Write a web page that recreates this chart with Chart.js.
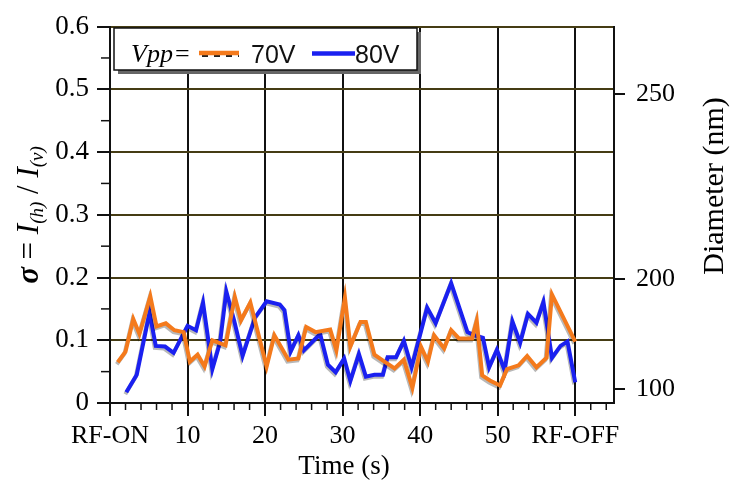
<!DOCTYPE html>
<html>
<head>
<meta charset="utf-8">
<title>Sigma vs time</title>
<script src="https://cdn.jsdelivr.net/npm/chart.js@4"></script>
<style>
  html, body { margin: 0; padding: 0; background: #fff; }
  canvas { display: block; }
</style>
</head>
<body>
<canvas id="chart" width="731" height="488"></canvas>
<script>
// values (time in s, sigma on the left axis)
const times70 = [1, 2, 3, 3.8, 5.2, 6, 7.2, 8.3, 9.5, 10.3, 11.3, 12.2, 13.2, 14.9, 16.1, 16.9, 18.1, 20.2, 21.2, 23, 24.3, 25.3, 26.5, 28.4, 29.2, 30.3, 31, 32.3, 33, 34.1, 35.4, 36.7, 37.9, 39, 40.1, 41, 41.8, 43.1, 44, 45, 46.7, 47.3, 48, 49, 50.3, 51.2, 52.7, 53.8, 55, 56.3, 57, 60];
const sigma70 = [0.065, 0.082, 0.134, 0.110, 0.170, 0.122, 0.127, 0.116, 0.113, 0.066, 0.077, 0.058, 0.100, 0.092, 0.169, 0.132, 0.160, 0.058, 0.108, 0.069, 0.071, 0.121, 0.113, 0.117, 0.084, 0.168, 0.090, 0.129, 0.129, 0.077, 0.066, 0.055, 0.069, 0.024, 0.090, 0.066, 0.108, 0.087, 0.116, 0.103, 0.103, 0.131, 0.044, 0.036, 0.028, 0.054, 0.060, 0.075, 0.057, 0.072, 0.173, 0.098];

const times80 = [2.1, 3.45, 5.1, 5.9, 7.1, 8.2, 10, 11.1, 12, 13.2, 14.2, 15, 16, 17.1, 18.7, 20.2, 21.9, 22.5, 23.3, 24.3, 25, 27.1, 28.1, 29.1, 30.2, 31, 32.1, 33, 34.1, 35.2, 35.8, 36.9, 37.9, 38.9, 40.9, 42, 44, 46.1, 47, 48.1, 48.9, 49.9, 50.9, 51.9, 52.9, 53.9, 55, 55.9, 57, 58.1, 59, 60];
const sigma80 = [0.017, 0.045, 0.144, 0.091, 0.090, 0.080, 0.123, 0.116, 0.160, 0.054, 0.097, 0.178, 0.132, 0.075, 0.136, 0.162, 0.157, 0.148, 0.082, 0.108, 0.084, 0.110, 0.061, 0.049, 0.071, 0.035, 0.078, 0.042, 0.045, 0.045, 0.073, 0.073, 0.099, 0.057, 0.152, 0.127, 0.191, 0.113, 0.108, 0.104, 0.057, 0.085, 0.052, 0.130, 0.096, 0.142, 0.128, 0.161, 0.072, 0.091, 0.098, 0.033];

const xTickValues = [0, 10, 20, 30, 40, 50, 60];
const xTickLabels = ['RF-ON', '10', '20', '30', '40', '50', 'RF-OFF'];
const yTickValues = [0, 0.1, 0.2, 0.3, 0.4, 0.5, 0.6];
// right axis (diameter) labels and where they sit on the sigma scale
const diameterLabels = ['100', '200', '250'];
const diameterAt = [0.022, 0.198, 0.492];

const SERIF = '"Liberation Serif", "Times New Roman", serif';
const SANS = '"Liberation Sans", Arial, sans-serif';
const ORANGE = '#f47a1c';
const BLUE = '#1a20f0';

const pts = (xs, ys) => xs.map((x, i) => ({ x: x, y: ys[i] }));

// faint dark offset under the lines, like the printed figure
const lineShadow = {
  id: 'lineShadow',
  beforeDatasetDraw(chart) {
    const c = chart.ctx;
    c.save();
    c.shadowColor = 'rgba(0,0,0,0.28)';
    c.shadowOffsetX = -1;
    c.shadowOffsetY = 2;
    c.shadowBlur = 0;
  },
  afterDatasetDraw(chart) {
    chart.ctx.restore();
  }
};

const extras = {
  id: 'extras',
  afterDraw(chart) {
    const c = chart.ctx;
    const a = chart.chartArea;
    const xs = chart.scales.x, ys = chart.scales.y;

    // minor ticks
    c.save();
    c.strokeStyle = '#111';
    c.lineWidth = 1.5;
    for (let t = 2; t <= 64; t += 2) {
      if (t % 10 === 0) continue;
      const px = xs.getPixelForValue(t);
      c.beginPath(); c.moveTo(px, a.bottom); c.lineTo(px, a.bottom + 7); c.stroke();
    }
    for (let v = 0.05; v < 0.6; v += 0.1) {
      const py = ys.getPixelForValue(v);
      c.beginPath(); c.moveTo(a.left - 9, py); c.lineTo(a.left, py); c.stroke();
    }
    c.restore();

    // left title with subscripts
    c.save();
    c.translate(30, 215);
    c.rotate(-Math.PI / 2);
    c.fillStyle = '#000';
    c.textBaseline = 'alphabetic';
    const parts = [
      { s: 'σ', f: 'italic bold 31px ' + SERIF, dy: 0 },
      { s: ' = ', f: '31px ' + SERIF, dy: 0 },
      { s: 'I', f: 'italic 31px ' + SERIF, dy: 0 },
      { s: '(h)', f: 'italic 19px ' + SERIF, dy: 5 },
      { s: ' / ', f: '31px ' + SERIF, dy: 0 },
      { s: 'I', f: 'italic 31px ' + SERIF, dy: 0 },
      { s: '(v)', f: 'italic 19px ' + SERIF, dy: 5 }
    ];
    let total = 0;
    parts.forEach(p => { c.font = p.f; p.w = c.measureText(p.s).width; total += p.w; });
    let x = -total / 2;
    parts.forEach(p => { c.font = p.f; c.fillText(p.s, x, 8 + p.dy); x += p.w; });
    c.restore();

    // right title
    c.save();
    c.translate(715, 186);
    c.rotate(-Math.PI / 2);
    c.font = '30px ' + SERIF;
    c.fillStyle = '#000';
    c.textAlign = 'center';
    c.textBaseline = 'middle';
    c.fillText('Diameter (nm)', 0, 0);
    c.restore();

    // bottom title
    c.save();
    c.font = '27px ' + SERIF;
    c.fillStyle = '#000';
    c.textAlign = 'center';
    c.textBaseline = 'middle';
    c.fillText('Time (s)', 344, 467);
    c.restore();

    // legend box
    c.save();
    const bx = 114, by = 28, bw = 303, bh = 42;
    c.fillStyle = '#666';
    c.fillRect(bx + 4, by + 4, bw, bh);
    c.fillStyle = '#fff';
    c.fillRect(bx, by, bw, bh);
    c.strokeStyle = '#111';
    c.lineWidth = 1.5;
    c.strokeRect(bx, by, bw, bh);
    c.fillStyle = '#000';
    c.textBaseline = 'alphabetic';
    c.font = 'italic 26px ' + SERIF;
    c.fillText('Vpp', 131, 62);
    c.font = '26px ' + SERIF;
    c.fillText('=', 175, 62);
    // 70V sample: orange over black dashes
    c.setLineDash([6, 6]);
    c.strokeStyle = '#222';
    c.lineWidth = 2;
    c.beginPath(); c.moveTo(202, 56); c.lineTo(239, 56); c.stroke();
    c.setLineDash([]);
    c.strokeStyle = ORANGE;
    c.lineWidth = 4.5;
    c.beginPath(); c.moveTo(199, 53); c.lineTo(239, 53); c.stroke();
    c.strokeStyle = BLUE;
    c.beginPath(); c.moveTo(312, 53.5); c.lineTo(355, 53.5); c.stroke();
    c.font = '25px ' + SANS;
    c.fillStyle = '#111';
    c.fillText('70V', 251, 63);
    c.fillText('80V', 355, 63);
    c.restore();
  }
};

new Chart(document.getElementById('chart'), {
  type: 'line',
  data: {
    datasets: [
      { label: '70V', data: pts(times70, sigma70), borderColor: ORANGE, borderWidth: 4, pointRadius: 0, tension: 0, fill: false, yAxisID: 'y' },
      { label: '80V', data: pts(times80, sigma80), borderColor: BLUE, borderWidth: 4, pointRadius: 0, tension: 0, fill: false, yAxisID: 'y' }
    ]
  },
  options: {
    responsive: false,
    animation: false,
    devicePixelRatio: 1,
    layout: { padding: { top: 21, left: 0, right: 0, bottom: 0 } },
    plugins: { legend: { display: false }, tooltip: { enabled: false } },
    scales: {
      x: {
        type: 'linear',
        min: 0,
        max: 65,
        afterBuildTicks: s => { s.ticks = xTickValues.map(v => ({ value: v })); },
        afterFit: s => { s.height = 85; },
        ticks: {
          callback: (v, i) => xTickLabels[i],
          font: { family: SERIF, size: 26 },
          color: '#000',
          padding: 5,
          maxRotation: 0,
          autoSkip: false
        },
        grid: { color: '#111', lineWidth: 2, tickColor: '#111', tickLength: 13 },
        border: { color: '#111', width: 2 }
      },
      y: {
        position: 'left',
        min: 0,
        max: 0.6,
        afterBuildTicks: s => { s.ticks = yTickValues.map(v => ({ value: v })); },
        afterFit: s => { s.width = 110; },
        ticks: {
          callback: v => String(Number(v.toFixed(1))),
          font: { family: SERIF, size: 27 },
          color: '#000',
          padding: 8
        },
        grid: { color: '#453c14', lineWidth: 2, tickColor: '#111', tickLength: 13 },
        border: { color: '#111', width: 2 }
      },
      y2: {
        position: 'right',
        min: 0,
        max: 0.6,
        afterBuildTicks: s => { s.ticks = diameterAt.map(v => ({ value: v })); },
        afterFit: s => { s.width = 117; },
        ticks: {
          callback: (v, i) => diameterLabels[i],
          font: { family: SERIF, size: 26 },
          color: '#000',
          padding: 11
        },
        grid: { drawOnChartArea: false, tickColor: '#111', tickLength: 11, lineWidth: 2 },
        border: { color: '#111', width: 2 }
      }
    }
  },
  plugins: [lineShadow, extras]
});
</script>
</body>
</html>
